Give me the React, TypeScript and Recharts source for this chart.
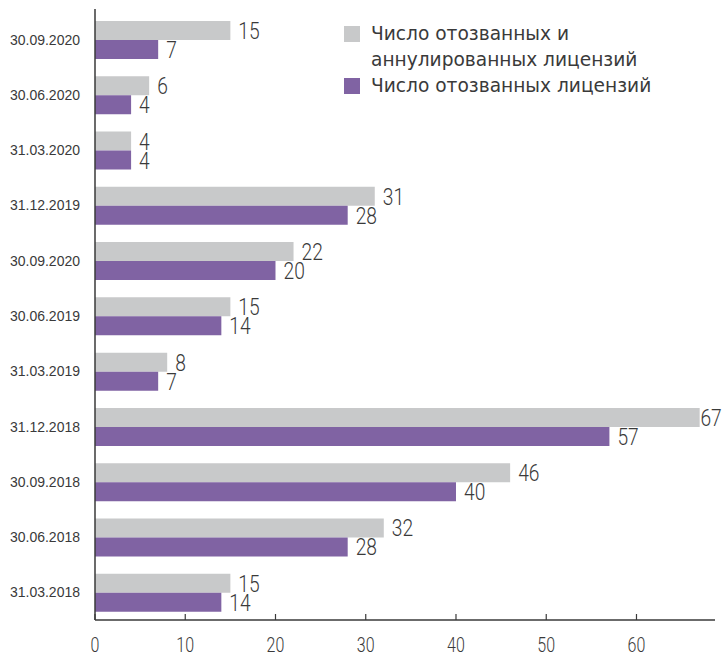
import React from 'react';
import { BarChart, Bar, XAxis, YAxis, LabelList, Legend } from 'recharts';

const categories = [
  '30.09.2020',
  '30.06.2020',
  '31.03.2020',
  '31.12.2019',
  '30.09.2020',
  '30.06.2019',
  '31.03.2019',
  '31.12.2018',
  '30.09.2018',
  '30.06.2018',
  '31.03.2018',
];
const revokedAndAnnulled = [15, 6, 4, 31, 22, 15, 8, 67, 46, 32, 15];
const revokedOnly = [7, 4, 4, 28, 20, 14, 7, 57, 40, 28, 14];
const xTicks = [0, 10, 20, 30, 40, 50, 60];
const seriesNames = [
  'Число отозванных и аннулированных лицензий',
  'Число отозванных лицензий',
];
const legendLines = [
  ['Число отозванных и', 'аннулированных лицензий'],
  ['Число отозванных лицензий'],
];
const colors = ['#c8c9ca', '#8063a3'];

const data = categories.map((c, i) => ({
  id: i,
  label: c,
  total: revokedAndAnnulled[i],
  revoked: revokedOnly[i],
}));

const TEXT = '#3a3a3a';
const NUMFONT = 'Roboto, "DejaVu Sans", sans-serif';
const CHART_W = 724;
const CHART_H = 654;

const XTick = (props: any) => {
  const { x, y, payload } = props;
  return (
    <g>
      <line x1={x} x2={x} y1={y - 6} y2={y} stroke={TEXT} strokeWidth={1.2} />
      <text
        transform={`translate(${x},${y + 32}) scale(0.8,1)`}
        x={0}
        y={0}
        textAnchor="middle"
        fill={TEXT}
        style={{ fontFamily: NUMFONT, fontSize: 20, fontWeight: 300 }}
      >
        {payload.value}
      </text>
    </g>
  );
};

const YTick = (props: any) => {
  const { x, y, payload } = props;
  return (
    <text
      x={x - 15}
      y={y}
      textAnchor="end"
      dominantBaseline="central"
      fill={TEXT}
      style={{ fontFamily: '"Liberation Sans", sans-serif', fontSize: 14 }}
    >
      {categories[payload.value]}
    </text>
  );
};

const ValueLabel = (props: any) => {
  const { x, y, width, height, value } = props;
  const textW = String(value).length * 10.8;
  const lx = Math.min(x + width + 8, CHART_W - 2 - textW);
  const cy = y + height / 2;
  return (
    <text
      transform={`translate(${lx},${cy + 8.5}) scale(0.8,1)`}
      x={0}
      y={0}
      textAnchor="start"
      fill={TEXT}
      style={{ fontFamily: NUMFONT, fontSize: 24, fontWeight: 300 }}
    >
      {value}
    </text>
  );
};

const renderLegend = () => (
  <div style={{ fontFamily: '"DejaVu Sans", sans-serif', fontSize: 18.6, color: TEXT }}>
    {legendLines.map((lines, i) => (
      <div key={i} style={{ display: 'flex', alignItems: 'flex-start' }}>
        <div
          style={{
            width: 16,
            height: 16,
            background: colors[i],
            marginTop: 5,
            marginRight: 11,
            flex: 'none',
          }}
        />
        <div style={{ lineHeight: '26px', whiteSpace: 'nowrap' }}>
          {lines.map((l, j) => (
            <div key={j}>{l}</div>
          ))}
        </div>
      </div>
    ))}
  </div>
);

export default function App() {
  return (
    <div style={{ width: CHART_W, height: CHART_H }}>
      <style>{'body{margin:0}'}</style>
      <BarChart
        width={CHART_W}
        height={CHART_H}
        data={data}
        layout="vertical"
        margin={{ top: 9, right: 9, left: 0, bottom: 0 }}
        barGap={0}
        barSize={19}
      >
        <XAxis
          type="number"
          domain={[0, 68.7]}
          ticks={xTicks}
          height={34}
          axisLine={{ stroke: TEXT, strokeWidth: 1.5 }}
          tickLine={false}
          tickSize={0}
          tickMargin={0}
          tick={<XTick />}
          interval={0}
        />
        <YAxis
          type="category"
          dataKey="id"
          width={95}
          padding={{ top: 3, bottom: 0 }}
          axisLine={{ stroke: TEXT, strokeWidth: 1.5 }}
          tickLine={false}
          tickSize={0}
          tickMargin={0}
          tick={<YTick />}
          interval={0}
        />
        <Legend
          layout="vertical"
          align="center"
          verticalAlign="middle"
          content={renderLegend}
          wrapperStyle={{ top: 21, left: 344, width: 350 }}
        />
        <Bar dataKey="total" name={seriesNames[0]} fill={colors[0]} isAnimationActive={false}>
          <LabelList dataKey="total" content={<ValueLabel />} />
        </Bar>
        <Bar dataKey="revoked" name={seriesNames[1]} fill={colors[1]} isAnimationActive={false}>
          <LabelList dataKey="revoked" content={<ValueLabel />} />
        </Bar>
      </BarChart>
    </div>
  );
}
